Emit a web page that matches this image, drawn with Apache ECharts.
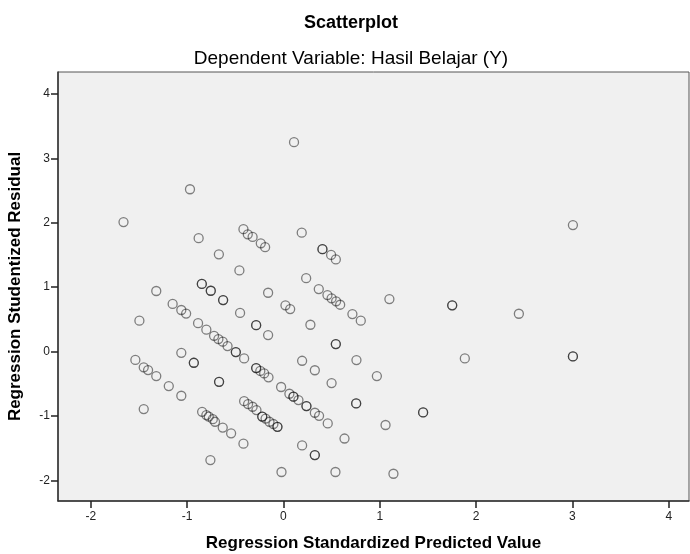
<!DOCTYPE html>
<html>
<head>
<meta charset="utf-8">
<script src="https://cdn.jsdelivr.net/npm/echarts@6/dist/echarts.min.js"></script>
<style>
html,body{margin:0;padding:0;background:#fff;}
#chart{width:690px;height:554px;}
</style>
</head>
<body>
<div id="chart"></div>
<script>
// Regression Standardized Predicted Value (x) and Studentized Residual (y)
var predicted = [
  -1.66, -0.97, -0.88, -0.415, -0.37, -0.32, -0.235, -0.19, -0.67, -0.457,
  0.11, 0.19, 0.405, 0.405, 0.495, 0.544, 0.236,
  -0.847, -0.847, -0.754, -0.754, -0.626, -0.626, -0.159,
  -1.32, -1.15, -1.06, -1.01, -1.495, -0.45, -0.283, -0.283, -0.159,
  -0.886, -0.80, -0.72, -0.675, -0.63, -0.58, -0.494, -0.494, -0.408,
  -1.06, -0.93, -0.93, -1.537, -1.45, -1.405, -1.32, -1.19, -1.06,
  -0.668, -0.668, -0.283, -0.283, -0.24, -0.20, -0.155,
  -1.45, -0.844, -0.80, -0.775, -0.733, -0.71, -0.63, -0.543, -0.415, -0.758,
  -0.408, -0.367, -0.32, -0.28, -0.22, -0.22, -0.185, -0.145, -0.104, -0.062, -0.062,
  0.367, 0.457, 0.50, 0.547, 0.589, 0.716, 0.803, 1.10, 1.752, 1.752,
  0.021, 0.07, 0.28, 0.544, 0.544, 1.883, 0.194, 0.758, 0.326, 0.50, 0.97,
  -0.024, 0.062, 0.104, 0.104, 0.156, 0.239, 0.239, 0.326, 0.37, 0.46,
  0.755, 0.755, 0.634, 1.06, 1.45, 1.45, 0.194, 0.326, 0.326,
  -0.02, 0.54, 1.142, 3.005, 2.444, 3.005, 3.005
];
var residual = [
  2.01, 2.52, 1.76, 1.90, 1.82, 1.78, 1.68, 1.62, 1.51, 1.26,
  3.25, 1.845, 1.59, 1.59, 1.50, 1.43, 1.14,
  1.05, 1.05, 0.944, 0.944, 0.80, 0.80, 0.913,
  0.94, 0.74, 0.645, 0.59, 0.48, 0.60, 0.41, 0.41, 0.256,
  0.44, 0.34, 0.245, 0.194, 0.153, 0.085, -0.008, -0.008, -0.106,
  -0.02, -0.174, -0.174, -0.13, -0.245, -0.287, -0.38, -0.536, -0.686,
  -0.47, -0.47, -0.256, -0.256, -0.30, -0.34, -0.40,
  -0.893, -0.935, -0.986, -1.01, -1.05, -1.09, -1.18, -1.27, -1.43, -1.685,
  -0.77, -0.815, -0.857, -0.908, -1.01, -1.01, -1.04, -1.09, -1.125, -1.168, -1.168,
  0.97, 0.877, 0.826, 0.78, 0.727, 0.582, 0.479, 0.815, 0.717, 0.717,
  0.717, 0.66, 0.416, 0.116, 0.116, -0.106, -0.143, -0.132, -0.29, -0.49, -0.38,
  -0.55, -0.655, -0.70, -0.70, -0.753, -0.846, -0.846, -0.95, -0.997, -1.115,
  -0.805, -0.805, -1.35, -1.14, -0.945, -0.945, -1.457, -1.607, -1.607,
  -1.87, -1.87, -1.897, 1.964, 0.587, -0.075, -0.075
];
var xTicks = [-2, -1, 0, 1, 2, 3, 4];
var yTicks = [-2, -1, 0, 1, 2, 3, 4];
var titleText = 'Scatterplot';
var subtitleText = 'Dependent Variable: Hasil Belajar (Y)';
var xName = 'Regression Standardized Predicted Value';
var yName = 'Regression Studentized Residual';

var points = predicted.map(function (x, i) { return [x, residual[i]]; });
var FONT = 'Arial, "Liberation Sans", sans-serif';

var chart = echarts.init(document.getElementById('chart'), null, {renderer: 'canvas'});
chart.setOption({
  animation: false,
  backgroundColor: '#ffffff',
  title: [
    {text: titleText, left: 351, top: 14, padding: 0, textAlign: 'center',
     textStyle: {fontFamily: FONT, fontSize: 18, fontWeight: 'bold', color: '#000'}},
    {text: subtitleText, left: 351, top: 49, padding: 0, textAlign: 'center',
     textStyle: {fontFamily: FONT, fontSize: 19, fontWeight: 'normal', color: '#000'}}
  ],
  grid: {
    left: 58, top: 72, right: 1, bottom: 53,
    outerBoundsMode: 'none', containLabel: false,
    show: true, backgroundColor: '#f0f0f0', borderColor: '#555', borderWidth: 1
  },
  xAxis: {
    type: 'value', min: -2.34, max: 4.21,
    name: xName, nameLocation: 'middle', nameGap: 34,
    nameTextStyle: {fontFamily: FONT, fontSize: 17, fontWeight: 'bold', color: '#000'},
    axisLine: {show: true, onZero: false, lineStyle: {color: '#333', width: 1.5}},
    axisTick: {show: true, inside: false, length: 7, customValues: xTicks, lineStyle: {color: '#222', width: 1.5}},
    axisLabel: {customValues: xTicks, fontFamily: FONT, fontSize: 12, color: '#222', margin: 10},
    splitLine: {show: false}
  },
  yAxis: {
    type: 'value', min: -2.32, max: 4.34,
    name: yName, nameLocation: 'middle', nameGap: 34, nameRotate: 90,
    nameTextStyle: {fontFamily: FONT, fontSize: 17, fontWeight: 'bold', color: '#000'},
    axisLine: {show: true, onZero: false, lineStyle: {color: '#333', width: 1.5}},
    axisTick: {show: true, inside: false, length: 7, customValues: yTicks, lineStyle: {color: '#222', width: 1.5}},
    axisLabel: {customValues: yTicks, fontFamily: FONT, fontSize: 12, color: '#222', margin: 8},
    splitLine: {show: false}
  },
  series: [{
    type: 'scatter',
    data: points,
    symbol: 'circle',
    symbolSize: 9,
    itemStyle: {color: 'rgba(0,0,0,0)', borderColor: 'rgba(0,0,0,0.6)', borderWidth: 1.3},
    emphasis: {disabled: true}
  }]
});
</script>
</body>
</html>
